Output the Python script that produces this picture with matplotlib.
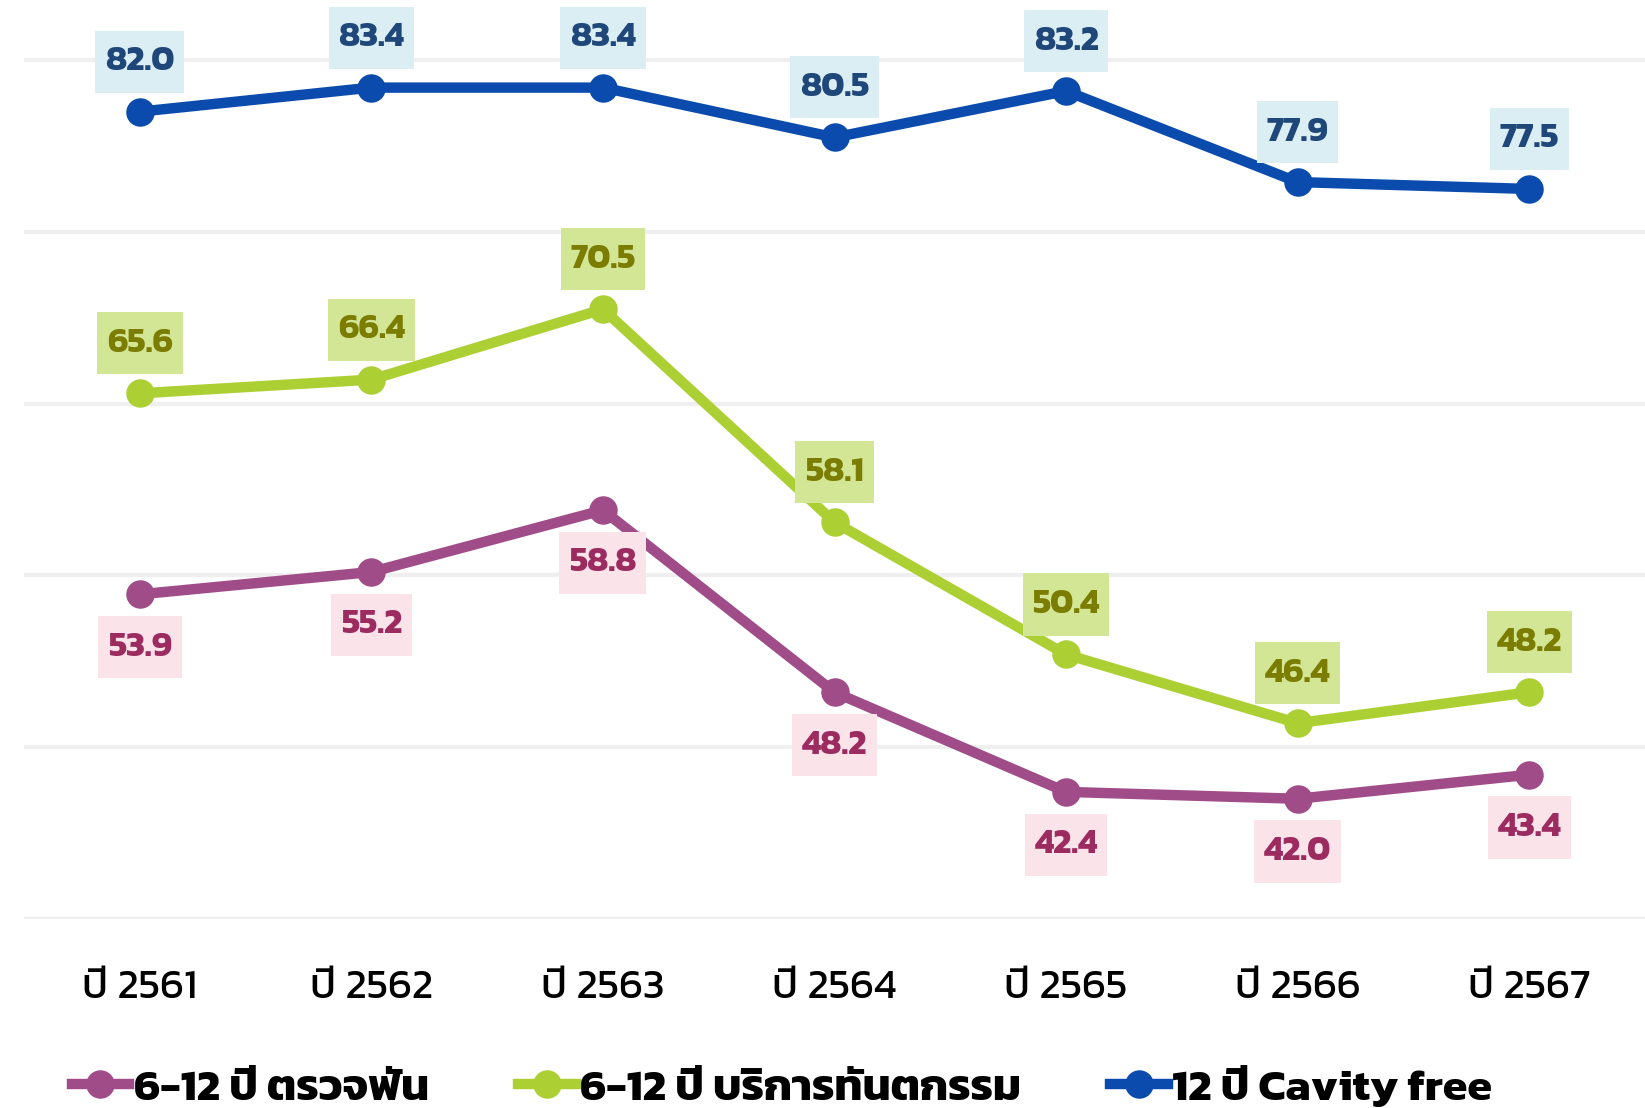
import matplotlib
matplotlib.use("Agg")
import matplotlib.pyplot as plt
from matplotlib import font_manager

# ข้อมูล
years = ["ปี 2561", "ปี 2562", "ปี 2563", "ปี 2564", "ปี 2565", "ปี 2566", "ปี 2567"]
check_up = [53.9, 55.2, 58.8, 48.2, 42.4, 42.0, 43.4]
dental_service = [65.6, 66.4, 70.5, 58.1, 50.4, 46.4, 48.2]
cavity_free = [82.0, 83.4, 83.4, 80.5, 83.2, 77.9, 77.5]
series_names = ["6-12 ปี ตรวจฟัน", "6-12 ปี บริการทันตกรรม", "12 ปี Cavity free"]

# เลือกฟอนต์ไทยที่มีในเครื่อง
names = {f.name for f in font_manager.fontManager.ttflist}
thai = "DejaVu Sans"
for cand in ["Kanit", "Prompt", "Mitr", "Bai Jamjuree", "Noto Sans Thai", "IBM Plex Sans Thai"]:
    if cand in names:
        thai = cand
        break
plt.rcParams['font.family'] = [thai, 'DejaVu Sans']

fig = plt.figure(figsize=(16.45, 11.08), dpi=100)
ax = fig.add_axes([24 / 1645, 1 - 919 / 1108, 1 - 24 / 1645, 919 / 1108])

x = list(range(len(years)))
styles = [
    (check_up, "#a04c88", "#9c2b60", "#fbe3ea", -38),
    (dental_service, "#acd033", "#7a7d00", "#d3e695", 36),
    (cavity_free, "#0a4bad", "#1f477a", "#dbeef4", 36),
]

for (vals, col, tcol, bcol, off), name in zip(styles, series_names):
    ax.plot(x, vals, color=col, lw=7.5, marker="o", ms=19.5, label=name, zorder=3)
    for xi, v in zip(x, vals):
        # กล่องสูงกว่ากว้าง ใช้ mutation_aspect ยืดแนวตั้ง
        ax.annotate(f"{v:.1f}", (xi, v), xytext=(0, off), textcoords="offset points",
                    ha="center", va="center", fontsize=25, fontweight="bold", color=tcol,
                    bbox=dict(boxstyle="square,pad=0.28", fc=bcol, ec="none",
                              mutation_aspect=1.6), zorder=4)

ax.set_xlim(-0.5, 6.5)
ax.set_ylim(35, 88.5)
ax.set_yticks([35, 45, 55, 65, 75, 85])
ax.grid(axis="y", color="#efefef", lw=3)
ax.set_axisbelow(True)
ax.tick_params(axis="y", left=False, labelleft=False)
ax.tick_params(axis="x", bottom=False, labelsize=30, pad=33)
ax.set_xticks(x)
ax.set_xticklabels(years)
for s in ax.spines.values():
    s.set_visible(False)

leg = fig.legend(loc="lower left", bbox_to_anchor=(0.030, -0.021), ncol=3, frameon=False,
                 prop=dict(size=32, weight="bold"), handlelength=1.3, handletextpad=0.1,
                 columnspacing=2.0, borderpad=0)

fig.savefig("out.png")
